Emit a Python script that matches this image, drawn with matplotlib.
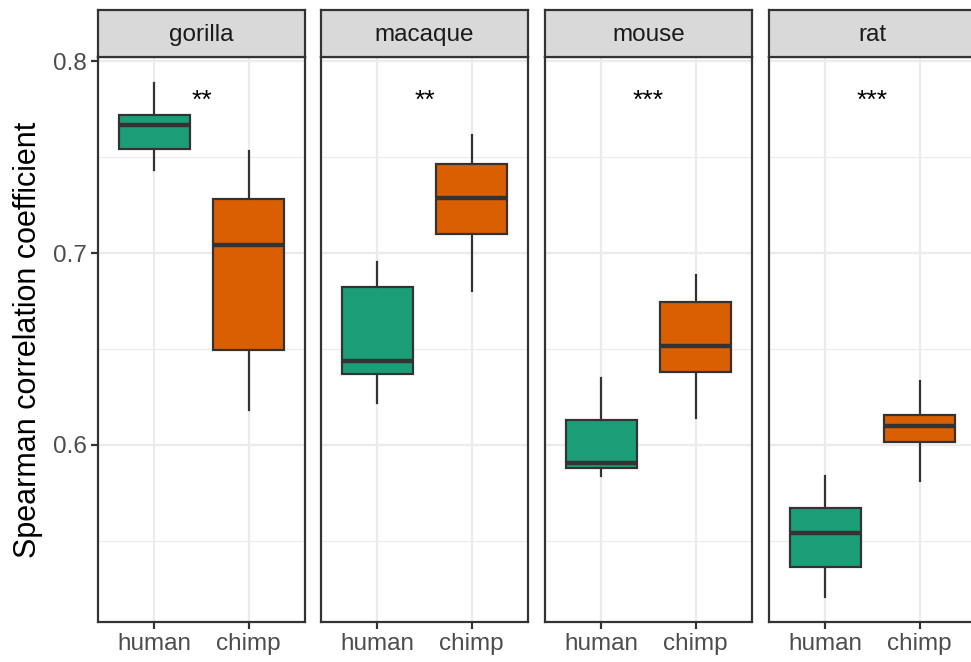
import matplotlib
matplotlib.use("Agg")
import matplotlib.pyplot as plt

plt.rcParams['font.family'] = ['Liberation Sans', 'DejaVu Sans']

species = ["gorilla", "macaque", "mouse", "rat"]
groups = ["human", "chimp"]
colors = ["#1B9E77", "#D95F02"]
stars = ["**", "**", "***", "***"]

# five-number summaries per species: [human, chimp]
whisker_low = [[0.743, 0.618], [0.622, 0.680], [0.584, 0.614], [0.521, 0.581]]
quart_1 = [[0.754, 0.6495], [0.637, 0.710], [0.588, 0.638], [0.5366, 0.6014]]
medians = [[0.7667, 0.7042], [0.644, 0.7288], [0.5904, 0.6517], [0.5543, 0.6099]]
quart_3 = [[0.7719, 0.7281], [0.6825, 0.7462], [0.613, 0.6743], [0.567, 0.6156]]
whisker_high = [[0.7884, 0.7531], [0.6952, 0.7615], [0.6347, 0.6885], [0.5839, 0.6335]]
star_y = 0.7795

y_ticks = [0.6, 0.7, 0.8]
y_minor = [0.55, 0.65, 0.75]
y_lim = (0.5078, 0.8021)

W, H = 971, 662
fig = plt.figure(figsize=(W / 100, H / 100), dpi=100)

panel_left = [98, 321, 545, 769]
panel_w = 207
panel_top, panel_bot = 57, 622
strip_top = 10
dark = "#333333"
lw_px = 2.2
lw = lw_px * 72 / 100

for i, sp in enumerate(species):
    x0 = panel_left[i]
    ax = fig.add_axes([x0 / W, 1 - panel_bot / H, panel_w / W, (panel_bot - panel_top) / H])
    stats = []
    for j, g in enumerate(groups):
        stats.append(dict(whislo=whisker_low[i][j], q1=quart_1[i][j], med=medians[i][j],
                          q3=quart_3[i][j], whishi=whisker_high[i][j], fliers=[], label=g))
    bp = ax.bxp(stats, positions=[1, 2], widths=0.75, patch_artist=True, showcaps=False,
                boxprops=dict(edgecolor=dark, linewidth=lw),
                whiskerprops=dict(color=dark, linewidth=lw),
                medianprops=dict(color=dark, linewidth=lw * 2.0, solid_capstyle="butt"),
                zorder=3)
    for patch, c in zip(bp["boxes"], colors):
        patch.set_facecolor(c)
    ax.text(1.5, star_y, stars[i], ha="center", va="center", fontsize=19, color="black", zorder=4)

    ax.set_xlim(0.4, 2.6)
    ax.set_ylim(*y_lim)
    ax.set_yticks(y_ticks)
    ax.set_yticks(y_minor, minor=True)
    ax.set_xticks([1, 2])
    ax.set_xticklabels(groups)
    ax.grid(True, which="major", color="#EBEBEB", linewidth=1.6, zorder=0)
    ax.grid(True, which="minor", axis="y", color="#EBEBEB", linewidth=0.8, zorder=0)
    ax.set_axisbelow(True)
    for s in ax.spines.values():
        s.set_color(dark)
        s.set_linewidth(lw)
    ax.tick_params(axis="both", which="major", length=5, width=lw, color=dark,
                   labelsize=17.5, labelcolor="#4D4D4D", pad=3)
    ax.tick_params(axis="y", which="minor", length=0)
    if i == 0:
        ax.set_ylabel("Spearman correlation coefficient", fontsize=22, color="black", labelpad=7)
    else:
        ax.tick_params(axis="y", which="both", left=False, labelleft=False)

    sax = fig.add_axes([x0 / W, 1 - panel_top / H, panel_w / W, (panel_top - strip_top) / H])
    sax.set_facecolor("#D9D9D9")
    sax.set_xticks([])
    sax.set_yticks([])
    for s in sax.spines.values():
        s.set_color(dark)
        s.set_linewidth(lw)
    sax.text(0.5, 0.46, sp, ha="center", va="center", fontsize=17.5, color="#1A1A1A",
             transform=sax.transAxes)

fig.savefig("out.png", dpi=100)
